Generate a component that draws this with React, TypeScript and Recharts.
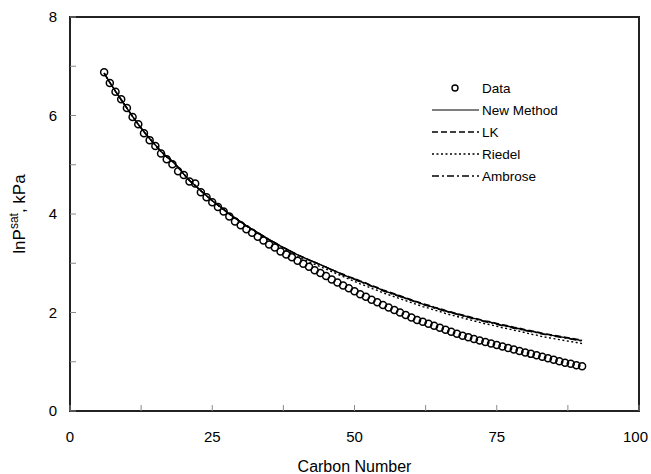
import React from "react";
import {
  ComposedChart,
  Line,
  Scatter,
  XAxis,
  YAxis,
  Legend,
  ReferenceArea,
  Label,
} from "recharts";

// carbon numbers of the n-alkanes
const carbon = [
  6, 7, 8, 9, 10, 11, 12, 13, 14, 15,
  16, 17, 18, 19, 20, 21, 22, 23, 24, 25,
  26, 27, 28, 29, 30, 31, 32, 33, 34, 35,
  36, 37, 38, 39, 40, 41, 42, 43, 44, 45,
  46, 47, 48, 49, 50, 51, 52, 53, 54, 55,
  56, 57, 58, 59, 60, 61, 62, 63, 64, 65,
  66, 67, 68, 69, 70, 71, 72, 73, 74, 75,
  76, 77, 78, 79, 80, 81, 82, 83, 84, 85,
  86, 87, 88, 89, 90,
];

const measured = [
  6.88, 6.66, 6.48, 6.33, 6.15, 5.97, 5.82, 5.64, 5.5, 5.38,
  5.23, 5.11, 5.01, 4.87, 4.79, 4.66, 4.62, 4.44, 4.34, 4.24,
  4.14, 4.05, 3.95, 3.85, 3.77, 3.69, 3.62, 3.54, 3.46, 3.38,
  3.32, 3.24, 3.18, 3.12, 3.05, 2.99, 2.93, 2.86, 2.8, 2.74,
  2.67, 2.61, 2.55, 2.49, 2.43, 2.37, 2.32, 2.26, 2.21, 2.15,
  2.1, 2.05, 2.0, 1.95, 1.9, 1.85, 1.81, 1.77, 1.73, 1.69,
  1.65, 1.61, 1.57, 1.53, 1.5, 1.46, 1.43, 1.4, 1.37, 1.34,
  1.31, 1.28, 1.25, 1.22, 1.19, 1.16, 1.13, 1.1, 1.07, 1.04,
  1.01, 0.98, 0.96, 0.93, 0.91,
];

const newMethod = [
  6.86, 6.67, 6.49, 6.32, 6.15, 5.98, 5.82, 5.67, 5.53, 5.4,
  5.27, 5.16, 5.07, 4.95, 4.81, 4.68, 4.58, 4.47, 4.37, 4.27,
  4.18, 4.09, 4.0, 3.92, 3.84, 3.76, 3.69, 3.62, 3.55, 3.48,
  3.42, 3.35, 3.29, 3.23, 3.17, 3.12, 3.07, 3.02, 2.97, 2.92,
  2.87, 2.82, 2.77, 2.72, 2.68, 2.63, 2.59, 2.54, 2.5, 2.45,
  2.41, 2.37, 2.33, 2.29, 2.25, 2.21, 2.17, 2.14, 2.1, 2.07,
  2.03, 2.0, 1.97, 1.94, 1.91, 1.88, 1.85, 1.82, 1.8, 1.77,
  1.74, 1.72, 1.69, 1.67, 1.64, 1.62, 1.6, 1.57, 1.55, 1.53,
  1.51, 1.49, 1.47, 1.45, 1.43,
];

const lk = [
  6.86, 6.67, 6.49, 6.32, 6.15, 5.98, 5.82, 5.67, 5.53, 5.4,
  5.27, 5.16, 5.07, 4.95, 4.81, 4.68, 4.58, 4.47, 4.37, 4.27,
  4.18, 4.09, 4.0, 3.92, 3.84, 3.76, 3.69, 3.62, 3.55, 3.48,
  3.42, 3.35, 3.29, 3.23, 3.17, 3.12, 3.07, 3.02, 2.97, 2.92,
  2.87, 2.82, 2.78, 2.73, 2.69, 2.64, 2.6, 2.55, 2.51, 2.46,
  2.42, 2.38, 2.34, 2.3, 2.26, 2.22, 2.18, 2.15, 2.11, 2.08,
  2.04, 2.01, 1.98, 1.95, 1.92, 1.89, 1.86, 1.83, 1.81, 1.78,
  1.75, 1.73, 1.7, 1.68, 1.65, 1.63, 1.61, 1.58, 1.56, 1.54,
  1.52, 1.5, 1.48, 1.46, 1.44,
];

const riedel = [
  6.86, 6.67, 6.49, 6.32, 6.15, 5.98, 5.82, 5.67, 5.53, 5.4,
  5.27, 5.16, 5.07, 4.95, 4.81, 4.68, 4.58, 4.47, 4.37, 4.27,
  4.18, 4.09, 4.0, 3.92, 3.84, 3.76, 3.68, 3.61, 3.54, 3.46,
  3.4, 3.33, 3.26, 3.2, 3.13, 3.08, 3.03, 2.98, 2.93, 2.88,
  2.83, 2.78, 2.73, 2.68, 2.63, 2.58, 2.54, 2.49, 2.45, 2.4,
  2.36, 2.32, 2.28, 2.24, 2.2, 2.16, 2.12, 2.09, 2.05, 2.02,
  1.98, 1.95, 1.92, 1.89, 1.86, 1.83, 1.8, 1.77, 1.75, 1.72,
  1.69, 1.67, 1.64, 1.62, 1.59, 1.56, 1.54, 1.51, 1.49, 1.47,
  1.45, 1.43, 1.41, 1.39, 1.37,
];

const ambrose = [
  6.86, 6.67, 6.49, 6.32, 6.15, 5.98, 5.82, 5.67, 5.53, 5.4,
  5.27, 5.16, 5.07, 4.95, 4.81, 4.68, 4.58, 4.47, 4.37, 4.27,
  4.18, 4.09, 4.0, 3.92, 3.84, 3.76, 3.69, 3.62, 3.55, 3.48,
  3.42, 3.35, 3.29, 3.23, 3.17, 3.12, 3.07, 3.02, 2.97, 2.92,
  2.86, 2.81, 2.76, 2.71, 2.67, 2.62, 2.58, 2.53, 2.49, 2.44,
  2.4, 2.36, 2.32, 2.28, 2.24, 2.2, 2.16, 2.13, 2.09, 2.06,
  2.02, 1.99, 1.96, 1.93, 1.9, 1.87, 1.84, 1.81, 1.79, 1.76,
  1.73, 1.71, 1.68, 1.66, 1.63, 1.61, 1.59, 1.56, 1.54, 1.52,
  1.5, 1.48, 1.46, 1.44, 1.42,
];

const xTicks = [0, 12.5, 25, 37.5, 50, 62.5, 75, 87.5, 100];
const xLabels = [0, 25, 50, 75, 100];
const yTicks = [0, 1, 2, 3, 4, 5, 6, 7, 8];
const yLabels = [0, 2, 4, 6, 8];

const legendNames = ["Data", "New Method", "LK", "Riedel", "Ambrose"];

const rows = carbon.map((c, i) => ({
  c,
  measured: measured[i],
  newMethod: newMethod[i],
  lk: lk[i],
  riedel: riedel[i],
  ambrose: ambrose[i],
}));

const FONT = "'Liberation Sans', Arial, sans-serif";
const TICK_COLOR = "#8a8a8a";

const dashes: (string | undefined)[] = [undefined, undefined, "6 3", "2 2.5", "7 3 2 3"];

function XTick(props: any) {
  const { x, y, payload } = props;
  const v = payload.value;
  // the last label is pulled in so it stays on the page
  const last = v === 100;
  return (
    <g>
      <line x1={x} x2={x} y1={y} y2={y - 6} stroke={TICK_COLOR} strokeWidth={1} />
      {xLabels.includes(v) && (
        <text
          x={last ? x + 9 : x}
          y={y + 31}
          textAnchor={last ? "end" : "middle"}
          fontSize={15}
          fontFamily={FONT}
          fill="#000"
        >
          {v}
        </text>
      )}
    </g>
  );
}

function YTick(props: any) {
  const { x, y, payload } = props;
  const v = payload.value;
  return (
    <g>
      <line x1={x} x2={x + 6} y1={y} y2={y} stroke={TICK_COLOR} strokeWidth={1} />
      {yLabels.includes(v) && (
        <text x={x - 13} y={y + 5} textAnchor="end" fontSize={15} fontFamily={FONT} fill="#000">
          {v}
        </text>
      )}
    </g>
  );
}

function YTitle(props: any) {
  const vb = props.viewBox;
  const cy = vb.y + vb.height / 2;
  return (
    <text
      transform={`translate(25,${cy}) rotate(-90)`}
      textAnchor="middle"
      fontSize={17}
      fontFamily={FONT}
      fill="#000"
    >
      lnP
      <tspan fontSize={12} dy={-7}>sat</tspan>
      <tspan dy={7}>, kPa</tspan>
    </text>
  );
}

function XTitle(props: any) {
  const vb = props.viewBox;
  return (
    <text
      x={vb.x + vb.width / 2}
      y={vb.y + 61}
      textAnchor="middle"
      fontSize={16}
      fontFamily={FONT}
      fill="#000"
    >
      Carbon Number
    </text>
  );
}

function DataDot(props: any) {
  const { cx, cy } = props;
  return <circle cx={cx} cy={cy} r={3.5} fill="none" stroke="#000" strokeWidth={1.5} />;
}

function LegendBox() {
  return (
    <svg width={200} height={112}>
      {legendNames.map((name, i) => {
        const y = 12 + i * 22;
        return (
          <g key={name}>
            {i === 0 ? (
              <circle cx={27} cy={y} r={3} fill="none" stroke="#000" strokeWidth={1.4} />
            ) : (
              <line
                x1={4}
                x2={51}
                y1={y}
                y2={y}
                stroke={i === 1 ? "#555" : "#000"}
                strokeWidth={1.5}
                strokeDasharray={dashes[i]}
              />
            )}
            <text x={54} y={y + 5} fontSize={13.5} fontFamily={FONT} fill="#000">
              {name}
            </text>
          </g>
        );
      })}
    </svg>
  );
}

export default function App() {
  return (
    <div style={{ position: "absolute", left: 0, top: 0, fontFamily: FONT }}>
      <ComposedChart
        width={651}
        height={474}
        data={rows}
        margin={{ top: 17, right: 12, bottom: 0, left: 0 }}
      >
        <XAxis
          dataKey="c"
          type="number"
          domain={[0, 100]}
          ticks={xTicks}
          interval={0}
          height={63}
          axisLine={false}
          tickLine={false}
          tickSize={0}
          tickMargin={0}
          tick={<XTick />}
        >
          <Label content={<XTitle />} />
        </XAxis>
        <YAxis
          type="number"
          domain={[0, 8]}
          ticks={yTicks}
          interval={0}
          width={70}
          axisLine={false}
          tickLine={false}
          tickSize={0}
          tickMargin={0}
          tick={<YTick />}
        >
          <Label content={<YTitle />} />
        </YAxis>
        <ReferenceArea
          x1={0}
          x2={100}
          y1={0}
          y2={8}
          fill="none"
          fillOpacity={0}
          stroke="#222"
          strokeWidth={2}
        />
        <Line
          dataKey="riedel"
          stroke="#000"
          strokeWidth={1.4}
          strokeDasharray="2 2.5"
          dot={false}
          legendType="none"
          isAnimationActive={false}
        />
        <Line
          dataKey="ambrose"
          stroke="#000"
          strokeWidth={1.3}
          strokeDasharray="7 3 2 3"
          dot={false}
          legendType="none"
          isAnimationActive={false}
        />
        <Line
          dataKey="lk"
          stroke="#000"
          strokeWidth={1.4}
          strokeDasharray="6 3"
          dot={false}
          legendType="none"
          isAnimationActive={false}
        />
        <Line
          dataKey="newMethod"
          stroke="#000"
          strokeWidth={1.4}
          dot={false}
          legendType="none"
          isAnimationActive={false}
        />
        <Scatter
          dataKey="measured"
          shape={<DataDot />}
          legendType="none"
          isAnimationActive={false}
        />
        <Legend
          layout="vertical"
          align="center"
          verticalAlign="middle"
          wrapperStyle={{ left: 428, top: 76, width: 200, height: 112 }}
          content={<LegendBox />}
        />
      </ComposedChart>
    </div>
  );
}
